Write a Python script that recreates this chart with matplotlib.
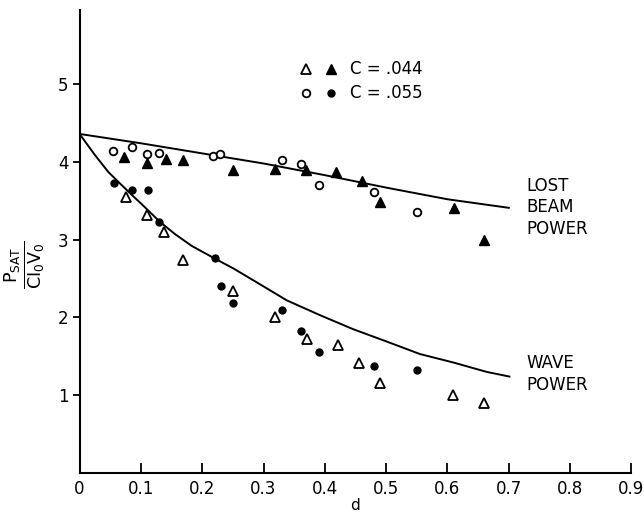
import matplotlib
matplotlib.use("Agg")
import matplotlib.pyplot as plt

# fitted curves
lost_x = [0.0, 0.1, 0.2, 0.3, 0.4, 0.5, 0.6, 0.7]
lost_y = [4.36, 4.24, 4.11, 3.98, 3.83, 3.67, 3.52, 3.41]
wave_x = [0.0, 0.025, 0.047, 0.069, 0.086, 0.101, 0.131, 0.156, 0.183, 0.22, 0.251,
          0.283, 0.338, 0.392, 0.446, 0.501, 0.555, 0.61, 0.664, 0.701]
wave_y = [4.36, 4.09, 3.87, 3.70, 3.57, 3.46, 3.23, 3.07, 2.92, 2.76, 2.63,
          2.48, 2.22, 2.03, 1.85, 1.69, 1.53, 1.42, 1.30, 1.24]

# C = .044, wave power (open triangles)
tri_open_x = [0.076, 0.110, 0.138, 0.169, 0.25, 0.319, 0.371, 0.422, 0.456, 0.49, 0.609, 0.66]
tri_open_y = [3.55, 3.32, 3.10, 2.74, 2.34, 2.01, 1.72, 1.65, 1.42, 1.16, 1.00, 0.905]
# C = .044, lost beam power (filled triangles)
tri_fill_x = [0.073, 0.110, 0.141, 0.169, 0.25, 0.319, 0.369, 0.419, 0.461, 0.49, 0.61, 0.659]
tri_fill_y = [4.06, 3.99, 4.04, 4.03, 3.90, 3.91, 3.90, 3.87, 3.76, 3.49, 3.41, 3.00]
# C = .055, lost beam power (open circles)
circ_open_x = [0.055, 0.085, 0.110, 0.130, 0.218, 0.229, 0.33, 0.361, 0.391, 0.48, 0.55]
circ_open_y = [4.14, 4.19, 4.10, 4.12, 4.08, 4.10, 4.02, 3.97, 3.70, 3.61, 3.36]
# C = .055, wave power (filled circles)
circ_fill_x = [0.057, 0.085, 0.111, 0.130, 0.221, 0.231, 0.25, 0.33, 0.361, 0.391, 0.481, 0.551]
circ_fill_y = [3.73, 3.64, 3.64, 3.23, 2.77, 2.40, 2.19, 2.09, 1.83, 1.55, 1.38, 1.32]

x_ticks = [0, 0.1, 0.2, 0.3, 0.4, 0.5, 0.6, 0.7, 0.8, 0.9]
x_labels = ["0", "0.1", "0.2", "0.3", "0.4", "0.5", "0.6", "0.7", "0.8", "0.9"]
y_ticks = [1, 2, 3, 4, 5]

FONT = dict(family="DejaVu Sans")

fig = plt.figure(figsize=(6.44, 5.17), dpi=100)
ax = fig.add_axes([0.1235, 0.0851, 0.857, 0.895])

ax.plot(lost_x, lost_y, color="black", lw=1.4)
ax.plot(wave_x, wave_y, color="black", lw=1.4)

ax.plot(tri_open_x, tri_open_y, ls="none", marker="^", ms=6.5, mfc="white", mec="black", mew=1.3)
ax.plot(tri_fill_x, tri_fill_y, ls="none", marker="^", ms=7, color="black")
ax.plot(circ_open_x, circ_open_y, ls="none", marker="o", ms=5.5, mfc="white", mec="black", mew=1.3)
ax.plot(circ_fill_x, circ_fill_y, ls="none", marker="o", ms=5, color="black")

# legend drawn as in the figure
ax.plot([0.369], [5.19], ls="none", marker="^", ms=6.5, mfc="white", mec="black", mew=1.3)
ax.plot([0.41], [5.19], ls="none", marker="^", ms=7, color="black")
ax.plot([0.369], [4.88], ls="none", marker="o", ms=5.5, mfc="white", mec="black", mew=1.3)
ax.plot([0.41], [4.88], ls="none", marker="o", ms=5, color="black")
ax.text(0.441, 5.19, "C = .044", fontsize=12, va="center", ha="left", **FONT)
ax.text(0.441, 4.88, "C = .055", fontsize=12, va="center", ha="left", **FONT)

ax.text(0.729, 3.42, "LOST\nBEAM\nPOWER", fontsize=12, va="center", ha="left",
        linespacing=1.25, **FONT)
ax.text(0.729, 1.27, "WAVE\nPOWER", fontsize=12, va="center", ha="left",
        linespacing=1.25, **FONT)

ax.set_xlim(0, 0.9)
ax.set_ylim(0, 5.95)
ax.set_xticks(x_ticks)
ax.set_xticklabels(x_labels, fontsize=12, **FONT)
ax.set_yticks(y_ticks)
ax.set_yticklabels([str(v) for v in y_ticks], fontsize=12, **FONT)
ax.tick_params(axis="x", direction="in", length=7, width=1.3, pad=5)
ax.tick_params(axis="y", direction="out", length=5, width=1.3, pad=3)

for side in ("top", "right"):
    ax.spines[side].set_visible(False)
for side in ("left", "bottom"):
    ax.spines[side].set_linewidth(1.5)

ax.set_xlabel("d", fontsize=11, labelpad=0, **FONT)
fig.text(0.039, 0.487, r"$\mathregular{\frac{P_{SAT}}{CI_0V_0}}$", fontsize=18, rotation=90,
         ha="center", va="center")

fig.savefig("out.png", dpi=100)
